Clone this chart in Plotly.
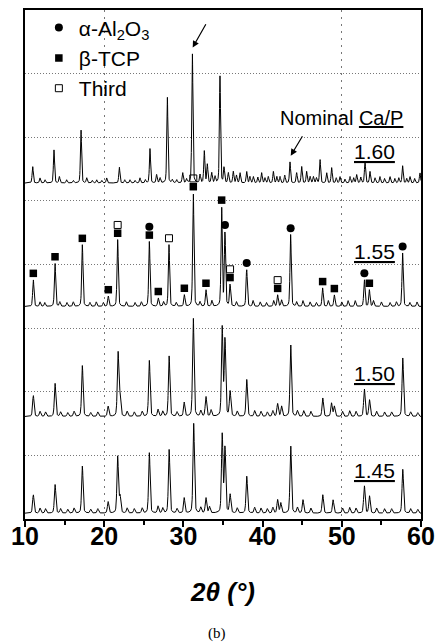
import numpy as np
import plotly.graph_objects as go

# ---------------- data ----------------
ca_p_labels = ["1.60", "1.55", "1.50", "1.45"]
baselines = [5.28, 3.34, 1.61, 0.09]          # vertical offset of each pattern (grid units)
peak_fwhm = [0.17, 0.19, 0.22, 0.22]          # typical peak width of each pattern (deg 2θ)

# Ca/P = 1.60
p160_pos = [10.97, 11.89, 12.53, 13.66, 14.34, 15.26, 16.1, 17.07, 17.79, 18.5, 19.05, 19.7, 20.31, 21.91,
            22.6, 23.26, 23.9, 24.52, 25.2, 25.78, 26.62, 27.05, 27.97, 28.6, 29.15, 29.91, 30.4, 31.13,
            32.10, 32.64, 33.02, 33.57, 34.0, 34.62, 35.13, 35.67, 36.30, 36.7, 37.15, 37.99, 38.4,
            38.83, 39.4, 39.88, 40.3, 40.72, 41.36, 41.8, 42.20, 42.8, 43.46, 44.30, 44.93, 45.56,
            46.0, 46.41, 46.8, 47.25, 48.09, 48.72, 49.3, 49.77, 50.4, 51.04, 51.5, 51.88, 52.4,
            52.93, 53.56, 54.2, 54.82, 55.4, 56.09, 56.7, 57.2, 57.68, 58.2, 58.61, 59.2, 59.87]
p160_amp = [0.26, 0.08, 0.05, 0.52, 0.10, 0.05, 0.04, 0.84, 0.08, 0.04, 0.05, 0.04, 0.08, 0.25,
            0.05, 0.05, 0.04, 0.08, 0.05, 0.54, 0.13, 0.08, 1.36, 0.05, 0.05, 0.16, 0.06, 2.05,
            0.13, 0.50, 0.29, 0.16, 0.10, 1.68, 0.24, 0.16, 0.18, 0.12, 0.16, 0.18, 0.10,
            0.10, 0.09, 0.16, 0.08, 0.10, 0.18, 0.10, 0.10, 0.12, 0.33, 0.16, 0.26, 0.18,
            0.10, 0.10, 0.08, 0.37, 0.16, 0.24, 0.08, 0.10, 0.06, 0.10, 0.08, 0.13, 0.09,
            0.34, 0.18, 0.08, 0.10, 0.07, 0.10, 0.07, 0.08, 0.27, 0.07, 0.10, 0.07, 0.16]

# Ca/P = 1.55
p155_pos = [11.05, 11.9, 12.5, 13.79, 14.4, 15.3, 16.1, 17.24, 18.2, 19.0, 19.9, 20.52, 21.70,
            22.8, 23.9, 24.7, 25.70, 26.83, 27.5, 28.18, 29.1, 30.12, 31.25, 32.1, 32.85, 33.6,
            34.83, 35.25, 35.89, 36.7, 37.99, 38.8, 39.7, 40.5, 41.4, 41.90, 42.4, 43.54, 44.3,
            45.1, 46.0, 46.8, 47.58, 48.3, 49.06, 50.0, 50.8, 51.7, 52.85, 53.48, 54.0, 55.0,
            56.1, 56.9, 57.68, 58.6, 59.5]
p155_amp = [0.42, 0.07, 0.06, 0.68, 0.07, 0.06, 0.07, 0.97, 0.06, 0.07, 0.06, 0.16, 1.05,
            0.07, 0.06, 0.07, 1.02, 0.13, 0.07, 0.97, 0.06, 0.18, 1.78, 0.07, 0.26, 0.09,
            1.55, 1.15, 0.34, 0.07, 0.58, 0.09, 0.07, 0.06, 0.09, 0.18, 0.10, 1.13, 0.07,
            0.09, 0.07, 0.06, 0.29, 0.09, 0.18, 0.07, 0.09, 0.09, 0.42, 0.26, 0.09, 0.07,
            0.06, 0.07, 0.84, 0.06, 0.07]

# Ca/P = 1.50
p150_pos = [11.05, 11.9, 12.6, 13.80, 14.5, 15.4, 16.2, 17.24, 18.3, 19.2, 20.50, 21.75, 21.99,
            22.9, 23.8, 24.8, 25.70, 26.80, 27.4, 28.20, 29.2, 30.10, 31.25, 32.2, 32.85, 33.5,
            34.90, 35.25, 35.90, 36.8, 38.00, 39.0, 39.8, 40.6, 41.3, 41.90, 42.40, 43.55, 44.4,
            45.2, 46.1, 47.60, 48.70, 49.06, 50.1, 51.0, 51.8, 52.85, 53.50, 54.4, 55.4, 56.3,
            57.70, 58.7, 59.6]
p150_amp = [0.33, 0.08, 0.07, 0.52, 0.07, 0.06, 0.08, 0.80, 0.06, 0.07, 0.16, 1.00, 0.31,
            0.08, 0.07, 0.08, 0.88, 0.11, 0.08, 0.95, 0.07, 0.22, 1.55, 0.09, 0.31, 0.10,
            1.39, 1.20, 0.39, 0.08, 0.58, 0.09, 0.08, 0.07, 0.09, 0.20, 0.16, 1.13, 0.09,
            0.09, 0.08, 0.29, 0.21, 0.16, 0.08, 0.09, 0.08, 0.43, 0.26, 0.08, 0.07,
            0.07, 0.92, 0.07, 0.06]

# Ca/P = 1.45
p145_pos = [11.05, 11.9, 12.6, 13.80, 14.5, 15.4, 16.2, 17.24, 18.3, 19.2, 20.50, 21.70, 22.00,
            22.9, 23.8, 24.8, 25.70, 26.80, 27.4, 28.20, 29.2, 30.10, 31.30, 32.2, 32.85, 33.30,
            34.90, 35.25, 35.90, 36.8, 38.00, 39.0, 39.8, 40.6, 41.3, 41.90, 42.30, 43.55, 44.4,
            45.10, 46.1, 47.60, 48.90, 50.1, 51.0, 51.8, 52.85, 53.50, 54.4, 55.4, 56.3,
            57.70, 58.7, 59.6]
p145_amp = [0.29, 0.08, 0.07, 0.45, 0.07, 0.06, 0.08, 0.74, 0.06, 0.07, 0.18, 0.89, 0.26,
            0.08, 0.07, 0.08, 0.95, 0.11, 0.08, 1.00, 0.07, 0.24, 1.41, 0.09, 0.24, 0.10,
            1.23, 1.02, 0.29, 0.08, 0.58, 0.09, 0.08, 0.07, 0.09, 0.21, 0.16, 1.06, 0.09,
            0.21, 0.08, 0.29, 0.21, 0.08, 0.09, 0.08, 0.43, 0.27, 0.08, 0.07,
            0.07, 0.69, 0.07, 0.06]

# phase markers on the Ca/P = 1.55 pattern (peak position, stack level above the peak)
alumina_x = [25.70, 35.25, 37.99, 43.54, 52.85, 57.68]
alumina_level = [1, 0, 0, 0, 0, 0]
tcp_x = [11.05, 13.79, 17.24, 20.52, 21.70, 25.70, 26.83, 30.12, 31.25, 32.85, 34.83, 35.89,
         41.90, 47.58, 49.06, 53.48]
tcp_level = [0] * 16
third_x = [21.70, 28.18, 31.25, 35.89, 41.90]
third_level = [1, 0, 1, 1, 1]

legend_names = ["α-Al<sub>2</sub>O<sub>3</sub>", "β-TCP", "Third"]
# ------------------------------------------------------------

two_theta = np.round(np.arange(10.0, 60.0001, 0.02), 3)


def profile(x, pos, amp, fwhm, eta=0.35):
    y = np.zeros_like(x)
    s = fwhm / 2.0
    for p, a in zip(pos, amp):
        d = (x - p) / s
        y += a * (eta / (1 + d * d) + (1 - eta) * np.exp(-np.log(2) * d * d))
    return y


patterns = [(p160_pos, p160_amp), (p155_pos, p155_amp), (p150_pos, p150_amp), (p145_pos, p145_amp)]

fig = go.Figure()
FONT = "Arial, Liberation Sans, Helvetica, sans-serif"

for (pos, amp), base, w in zip(patterns, baselines, peak_fwhm):
    fig.add_trace(go.Scatter(x=two_theta, y=base + profile(two_theta, pos, amp, w),
                             mode="lines", line=dict(color="black", width=1),
                             showlegend=False, hoverinfo="skip"))

gap0, gap_step = 0.10, 0.13


def marker_y(xs, levels):
    xs = np.array(xs)
    top = baselines[1] + profile(xs, p155_pos, p155_amp, peak_fwhm[1])
    return top + gap0 + gap_step * np.array(levels)


fig.add_trace(go.Scatter(x=alumina_x, y=marker_y(alumina_x, alumina_level), mode="markers",
                         name=legend_names[0],
                         marker=dict(symbol="circle", size=8, color="black")))
fig.add_trace(go.Scatter(x=tcp_x, y=marker_y(tcp_x, tcp_level), mode="markers",
                         name=legend_names[1],
                         marker=dict(symbol="square", size=7.5, color="black")))
fig.add_trace(go.Scatter(x=third_x, y=marker_y(third_x, third_level), mode="markers",
                         name=legend_names[2],
                         marker=dict(symbol="square-open", size=7, color="black",
                                     line=dict(width=1, color="black"))))

# helper trace for the overlaid vertical-grid axis
fig.add_trace(go.Scatter(x=[10, 60], y=[0, 0], xaxis="x2", mode="lines",
                         line=dict(width=0), showlegend=False, hoverinfo="skip"))

# Ca/P labels
label_y = [5.77, 4.20, 2.29, 0.77]
for lab, ly in zip(ca_p_labels, label_y):
    fig.add_annotation(x=54.1, y=ly, text=f"<u>{lab}</u>", showarrow=False,
                       font=dict(family=FONT, size=21, color="black"))

fig.add_annotation(x=49.9, y=6.30, text="Nominal <u>Ca/P</u>", showarrow=False,
                   font=dict(family=FONT, size=20, color="black"))
fig.add_annotation(x=43.55, y=5.71, ax=45.14, ay=6.04, axref="x", ayref="y", text="",
                   showarrow=True, arrowhead=2, arrowsize=1.1, arrowwidth=1.2, arrowcolor="black")
fig.add_annotation(x=31.17, y=7.41, ax=32.94, ay=7.80, axref="x", ayref="y", text="",
                   showarrow=True, arrowhead=2, arrowsize=1.1, arrowwidth=1.2, arrowcolor="black")

fig.add_annotation(x=0.485, y=-0.225, xref="paper", yref="paper", yanchor="middle",
                   text="(b)", showarrow=False,
                   font=dict(family="Times New Roman, Liberation Serif, serif", size=15, color="black"))

fig.update_layout(
    width=438, height=642,
    margin=dict(l=25, r=17, t=10, b=123, autoexpand=False),
    paper_bgcolor="white", plot_bgcolor="white",
    showlegend=True,
    legend=dict(x=0.035, y=1.005, xanchor="left", yanchor="top", bgcolor="rgba(0,0,0,0)",
                font=dict(family=FONT, size=21, color="black"), tracegroupgap=0,
                itemwidth=30),
    xaxis=dict(range=[10, 60], dtick=10, tick0=10, showgrid=False, zeroline=False,
               automargin=False,
               showline=True, mirror=True, linecolor="black", linewidth=2,
               ticks="outside", ticklen=6, tickwidth=2, tickcolor="black",
               minor=dict(dtick=5, tick0=10, ticks="outside", ticklen=4, tickwidth=2,
                          tickcolor="black", showgrid=False),
               ticklabelstandoff=-12,
               tickfont=dict(family=FONT, size=25, color="black", weight="bold"),
               title=dict(text="<b><i>2θ (°)</i></b>", standoff=34,
                          font=dict(family=FONT, size=26, color="black"))),
    xaxis2=dict(overlaying="x", range=[10, 60], tickmode="array", tickvals=[20, 50],
                automargin=False,
                showticklabels=False, ticks="", showline=False, zeroline=False,
                showgrid=True, gridcolor="#777777", griddash="2px,5px", gridwidth=1),
    yaxis=dict(range=[0, 8], dtick=1, tick0=0, showticklabels=False, ticks="",
               automargin=False,
               showgrid=True, gridcolor="#777777", griddash="1px,2px", gridwidth=1,
               zeroline=False, showline=True, mirror=True, linecolor="black", linewidth=2),
)

fig.write_html("out.html", config={"displayModeBar": False},
               post_script="document.body.style.margin='0';")
